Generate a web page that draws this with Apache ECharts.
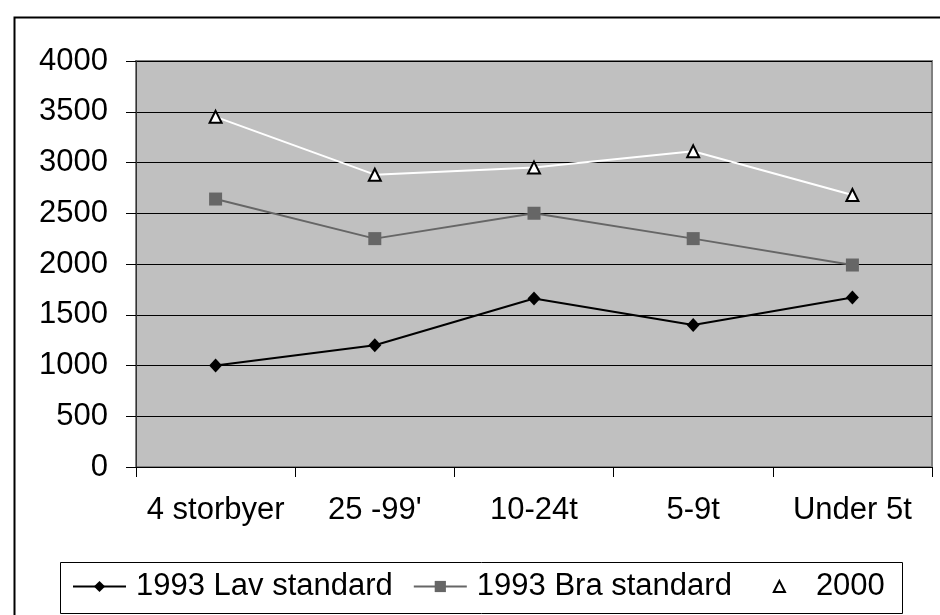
<!DOCTYPE html>
<html>
<head>
<meta charset="utf-8">
<script src="https://cdn.jsdelivr.net/npm/echarts@6/dist/echarts.min.js"></script>
<style>
html,body{margin:0;padding:0;background:#fff;}
#chart{width:940px;height:615px;}
</style>
</head>
<body>
<div id="chart"></div>
<script>
var categories = ["4 storbyer", "25 -99'", "10-24t", "5-9t", "Under 5t"];
var lavStandard1993 = [1000, 1200, 1660, 1400, 1670];
var braStandard1993 = [2640, 2250, 2500, 2250, 1990];
var values2000 = [3450, 2880, 2950, 3110, 2680];
var seriesNames = ["1993 Lav standard", "1993 Bra standard", "2000"];

var FONT = '"Liberation Sans", Arial, sans-serif';
var chart = echarts.init(document.getElementById('chart'), null, {renderer: 'canvas'});
chart.setOption({
  animation: false,
  backgroundColor: '#ffffff',
  textStyle: {fontFamily: FONT},
  graphic: [
    {type: 'rect', left: 12, top: 15, shape: {x: 0, y: 0, width: 940, height: 620},
     style: {fill: 'none', stroke: '#000', lineWidth: 2}, z: 0},
    {type: 'rect', left: 60, top: 562, shape: {x: 0, y: 0, width: 842, height: 51},
     style: {fill: '#fff', stroke: '#000', lineWidth: 1}, z: 0}
  ],
  grid: {
    left: 136, right: 8, top: 61, bottom: 148,
    show: true, backgroundColor: '#c0c0c0', borderColor: '#808080', borderWidth: 2
  },
  legend: {
    left: 72, top: 571,
    itemWidth: 53, itemHeight: 14, itemGap: 20,
    padding: 0,
    textStyle: {fontSize: 31, color: '#000', fontFamily: FONT, padding: [0, 0, 0, 5]},
    data: seriesNames
  },
  xAxis: {
    type: 'category',
    data: categories,
    boundaryGap: true,
    axisLine: {show: true, lineStyle: {color: '#000', width: 1}},
    axisTick: {show: true, inside: false, length: 10, alignWithLabel: false, lineStyle: {color: '#000'}},
    axisLabel: {fontSize: 31, color: '#000', margin: 28, fontFamily: FONT, interval: 0},
    splitLine: {show: false}
  },
  yAxis: {
    type: 'value',
    min: 0, max: 4000, interval: 500,
    axisLine: {show: true, lineStyle: {color: '#333', width: 1}},
    axisTick: {show: true, inside: false, length: 10, lineStyle: {color: '#000'}},
    axisLabel: {fontSize: 31, color: '#000', margin: 28, fontFamily: FONT,
      formatter: function (v) { return String(v); }},
    splitLine: {show: true, lineStyle: {color: '#000', width: 1}}
  },
  series: [
    {
      name: seriesNames[0], type: 'line', data: lavStandard1993,
      symbol: 'diamond', symbolSize: [13, 14],
      lineStyle: {color: '#000', width: 2},
      itemStyle: {color: '#000', borderColor: '#000', borderWidth: 0},
      z: 5
    },
    {
      name: seriesNames[1], type: 'line', data: braStandard1993,
      symbol: 'rect', symbolSize: 13,
      lineStyle: {color: '#666', width: 2},
      itemStyle: {color: '#666', borderColor: '#666', borderWidth: 0},
      z: 4
    },
    {
      name: seriesNames[2], type: 'line', data: values2000,
      symbol: 'triangle', symbolSize: 12,
      lineStyle: {color: '#fff', width: 2},
      itemStyle: {color: '#fff', borderColor: '#000', borderWidth: 2},
      z: 3
    }
  ]
});
</script>
</body>
</html>
